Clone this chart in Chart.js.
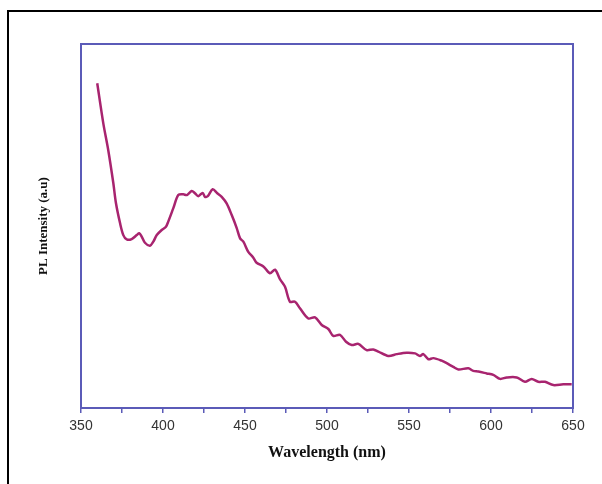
<!DOCTYPE html>
<html>
<head>
<meta charset="utf-8">
<script src="https://cdn.jsdelivr.net/npm/chart.js@4/dist/chart.umd.min.js"></script>
<style>
  html, body { margin: 0; padding: 0; background: #ffffff; }
  #wrap { position: relative; width: 602px; height: 484px; overflow: hidden; }
  #frame { position: absolute; left: 7px; top: 10px; right: -5px; bottom: -5px;
           border-top: 2px solid #000; border-left: 2px solid #000; }
  canvas { position: absolute; left: 0; top: 0; }
</style>
</head>
<body>
<div id="wrap">
  <div id="frame"></div>
  <canvas id="c" width="602" height="484"></canvas>
</div>
<script>
const wavelengths = [359.9, 363.6, 366.6, 369.7, 371.3, 373.8, 375.8, 377.9, 380.9, 384.0,
  385.5, 387.0, 389.0, 392.1, 394.1, 396.2, 399.2, 401.8, 403.2, 406.3,
  409.3, 412.4, 414.5, 417.5, 419.5, 421.5, 424.2, 425.6, 427.3, 430.3,
  433.1, 435.8, 438.8, 441.9, 444.9, 447.0, 449.0, 452.0, 455.1, 457.1,
  461.2, 465.2, 468.3, 471.3, 474.4, 477.4, 480.5, 483.5, 488.6, 492.7,
  496.8, 500.8, 503.8, 507.9, 511.6, 515.1, 519.1, 524.2, 528.2, 531.3,
  537.4, 542.5, 548.6, 553.7, 556.7, 558.7, 561.8, 564.8, 569.9, 573.0,
  577.0, 580.1, 586.2, 589.2, 592.3, 597.4, 601.4, 605.5, 609.6, 615.7,
  620.7, 624.8, 628.8, 632.9, 638.0, 644.1, 649.2];
const intensity = [89.2, 78.2, 70.9, 61.8, 56.3, 50.8, 47.5, 46.3, 46.4, 47.5,
  48.0, 47.1, 45.4, 44.6, 45.7, 47.5, 48.9, 49.8, 51.2, 54.9,
  58.5, 58.7, 58.5, 59.6, 59.0, 58.2, 59.1, 58.0, 58.2, 60.1,
  59.0, 58.0, 56.2, 53.0, 49.5, 46.6, 45.7, 42.9, 41.3, 39.9,
  38.9, 37.0, 38.0, 35.4, 33.3, 29.2, 29.2, 27.4, 24.6, 24.9,
  22.8, 21.7, 19.8, 20.1, 18.2, 17.3, 17.6, 15.9, 16.1, 15.5,
  14.3, 14.8, 15.2, 15.0, 14.3, 14.8, 13.4, 13.7, 13.0, 12.3,
  11.3, 10.6, 10.9, 10.2, 10.0, 9.5, 9.1, 8.0, 8.4, 8.4,
  7.2, 8.0, 7.2, 7.2, 6.3, 6.5, 6.5];
const xMajorTicks = [350, 400, 450, 500, 550, 600, 650];
const xTitle = 'Wavelength (nm)';
const yTitle = 'PL Intensity (a.u)';

const axisBlue = '#5b5bb8';
const lineColor = '#a8246f';

const frameBox = {
  id: 'frameBox',
  afterDatasetsDraw(chart) {
    const {ctx, chartArea: a} = chart;
    ctx.save();
    ctx.strokeStyle = axisBlue;
    ctx.lineWidth = 2;
    ctx.strokeRect(a.left, a.top, a.right - a.left, a.bottom - a.top);
    ctx.restore();
  }
};

new Chart(document.getElementById('c'), {
  type: 'line',
  data: {
    datasets: [{
      data: wavelengths.map((w, i) => ({x: w, y: intensity[i]})),
      borderColor: lineColor,
      borderWidth: 2.5,
      pointRadius: 0,
      tension: 0.3,
      fill: false
    }]
  },
  options: {
    responsive: false,
    animation: false,
    devicePixelRatio: 1,
    layout: { padding: { top: 44, right: 29, left: 0, bottom: 0 } },
    plugins: { legend: { display: false }, tooltip: { enabled: false } },
    scales: {
      x: {
        type: 'linear',
        min: 350, max: 650,
        afterFit: (s) => { s.height = 76; },
        border: { display: false },
        grid: { drawOnChartArea: false, drawTicks: true, tickLength: 5,
                color: axisBlue, tickColor: axisBlue, lineWidth: 1.5 },
        ticks: {
          stepSize: 25,
          padding: 5,
          color: '#333333',
          font: { family: 'Liberation Sans, Arial, sans-serif', size: 14 },
          maxRotation: 0,
          callback: (v) => xMajorTicks.includes(v) ? String(v) : ''
        },
        title: {
          display: true, text: xTitle, color: '#111111',
          font: { family: 'Liberation Serif, Times New Roman, serif', size: 16, weight: 'bold' },
          padding: { top: 0, bottom: 22 }
        }
      },
      y: {
        min: 0, max: 100,
        afterFit: (s) => { s.width = 81; },
        border: { display: false },
        grid: { display: false },
        ticks: { display: false },
        title: {
          display: true, text: yTitle, color: '#111111',
          font: { family: 'Liberation Serif, Times New Roman, serif', size: 13, weight: 'bold' },
          padding: { top: 36, bottom: 0 }
        }
      }
    }
  },
  plugins: [frameBox]
});
</script>
</body>
</html>
